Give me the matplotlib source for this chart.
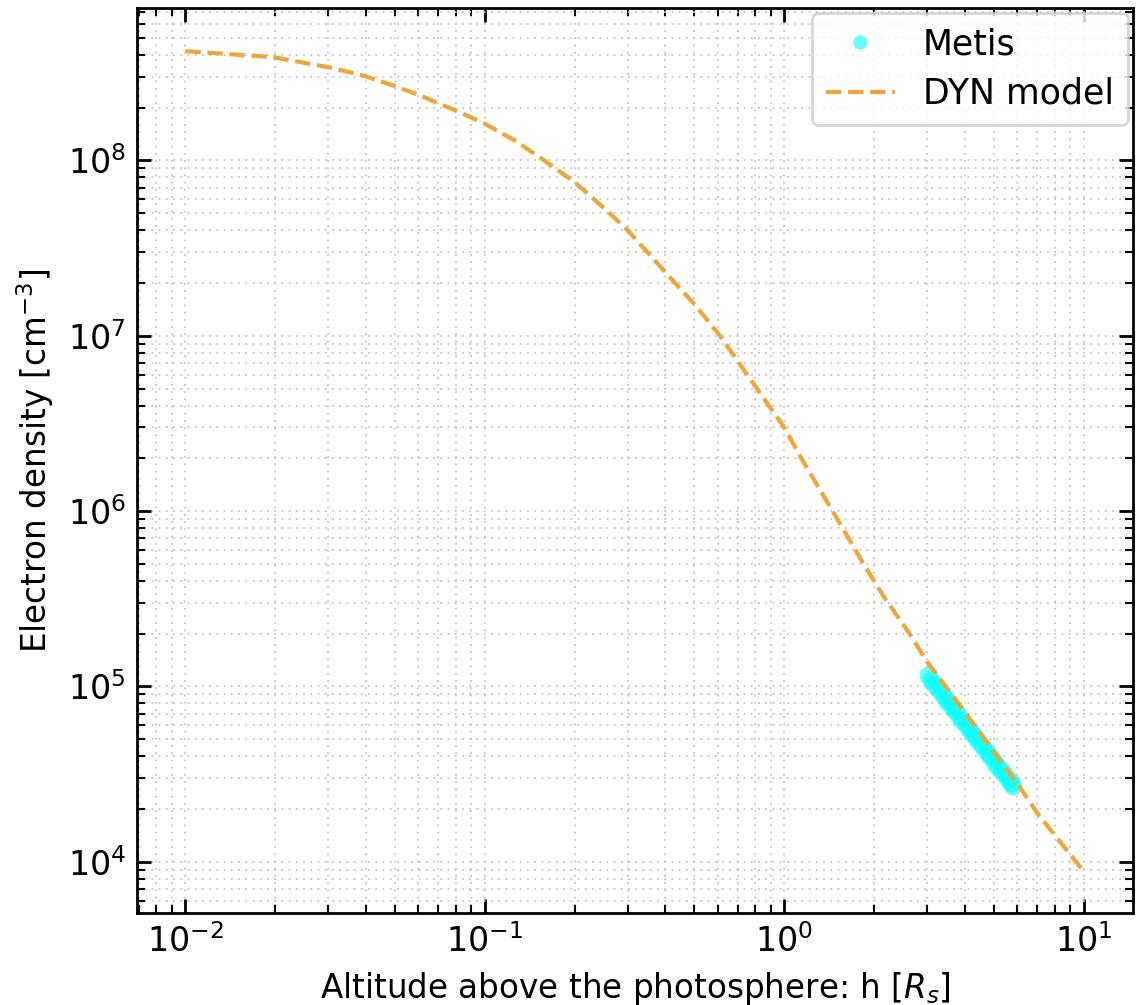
import numpy as np
import matplotlib
matplotlib.use("Agg")
import matplotlib.pyplot as plt

# DYN model curve
h_model = [0.01, 0.0197, 0.0304, 0.0392, 0.0482, 0.0607, 0.0826, 0.1, 0.126,
           0.158, 0.2, 0.25, 0.3, 0.4, 0.5, 0.61, 0.81, 1.0, 1.14, 1.45, 1.84,
           2.15, 2.62, 3.0, 4.0, 5.0, 6.0, 7.0, 10.0]
n_model = [4.2e8, 3.88e8, 3.39e8, 3.05e8, 2.72e8, 2.35e8, 1.88e8, 1.62e8, 1.30e8,
           1.0e8, 7.5e7, 5.35e7, 4.0e7, 2.31e7, 1.52e7, 1.0e7, 5.0e6, 3.0e6,
           2.0e6, 1.0e6, 5.0e5, 3.25e5, 2.0e5, 1.38e5, 7.18e4, 4.25e4, 2.8e4,
           1.89e4, 8.8e3]

# Metis measurements
h_metis = [3.01, 3.09, 3.17, 3.26, 3.35, 3.44, 3.53, 3.63, 3.73, 3.83, 3.93,
           4.04, 4.15, 4.26, 4.38, 4.50, 4.62, 4.75, 4.88, 5.01, 5.15, 5.29,
           5.43, 5.58, 5.73, 5.80]
n_metis = [1.16e5, 1.095e5, 1.034e5, 9.73e4, 9.16e4, 8.64e4, 8.16e4, 7.67e4,
           7.22e4, 6.81e4, 6.44e4, 6.05e4, 5.70e4, 5.38e4, 5.06e4, 4.77e4,
           4.50e4, 4.24e4, 3.99e4, 3.76e4, 3.54e4, 3.34e4, 3.15e4, 2.97e4,
           2.80e4, 2.72e4]

plt.rcParams['font.family'] = ['DejaVu Sans']

fig = plt.figure(figsize=(11.45, 10.05), dpi=100)
ax = fig.add_axes([0.1197, 0.0915, 0.8698, 0.9005])

ax.plot(h_metis, n_metis, 'o', color='cyan', alpha=0.6, markersize=13,
        markeredgewidth=0, label='Metis', zorder=3)
ax.plot(h_model, n_model, '--', color='#f0a535', lw=3, label='DYN model', zorder=4)

ax.set_xscale('log')
ax.set_yscale('log')
ax.set_xlim(0.0069, 14.6)
ax.set_ylim(5.1e3, 7.4e8)

ax.grid(True, which='both', linestyle=(0, (1, 3)), color='#c4c4c4', linewidth=1.3)
ax.tick_params(which='both', direction='in', top=True, right=True, labelsize=24)
ax.tick_params(which='major', length=10, width=2, pad=8)
ax.tick_params(which='minor', length=6, width=1.5)
for s in ax.spines.values():
    s.set_linewidth(2)

ax.set_xlabel('Altitude above the photosphere: h [$R_s$]', fontsize=23.5, labelpad=8)
ax.set_ylabel('Electron density [cm$^{-3}$]', fontsize=23.5, labelpad=8)

leg = ax.legend(loc='upper right', fontsize=25, markerscale=0.8, handlelength=2.0,
                borderpad=0.4, labelspacing=0.45, handletextpad=0.8,
                borderaxespad=0.15)
leg.get_frame().set_linewidth(2)

fig.savefig('out.png', dpi=100)
